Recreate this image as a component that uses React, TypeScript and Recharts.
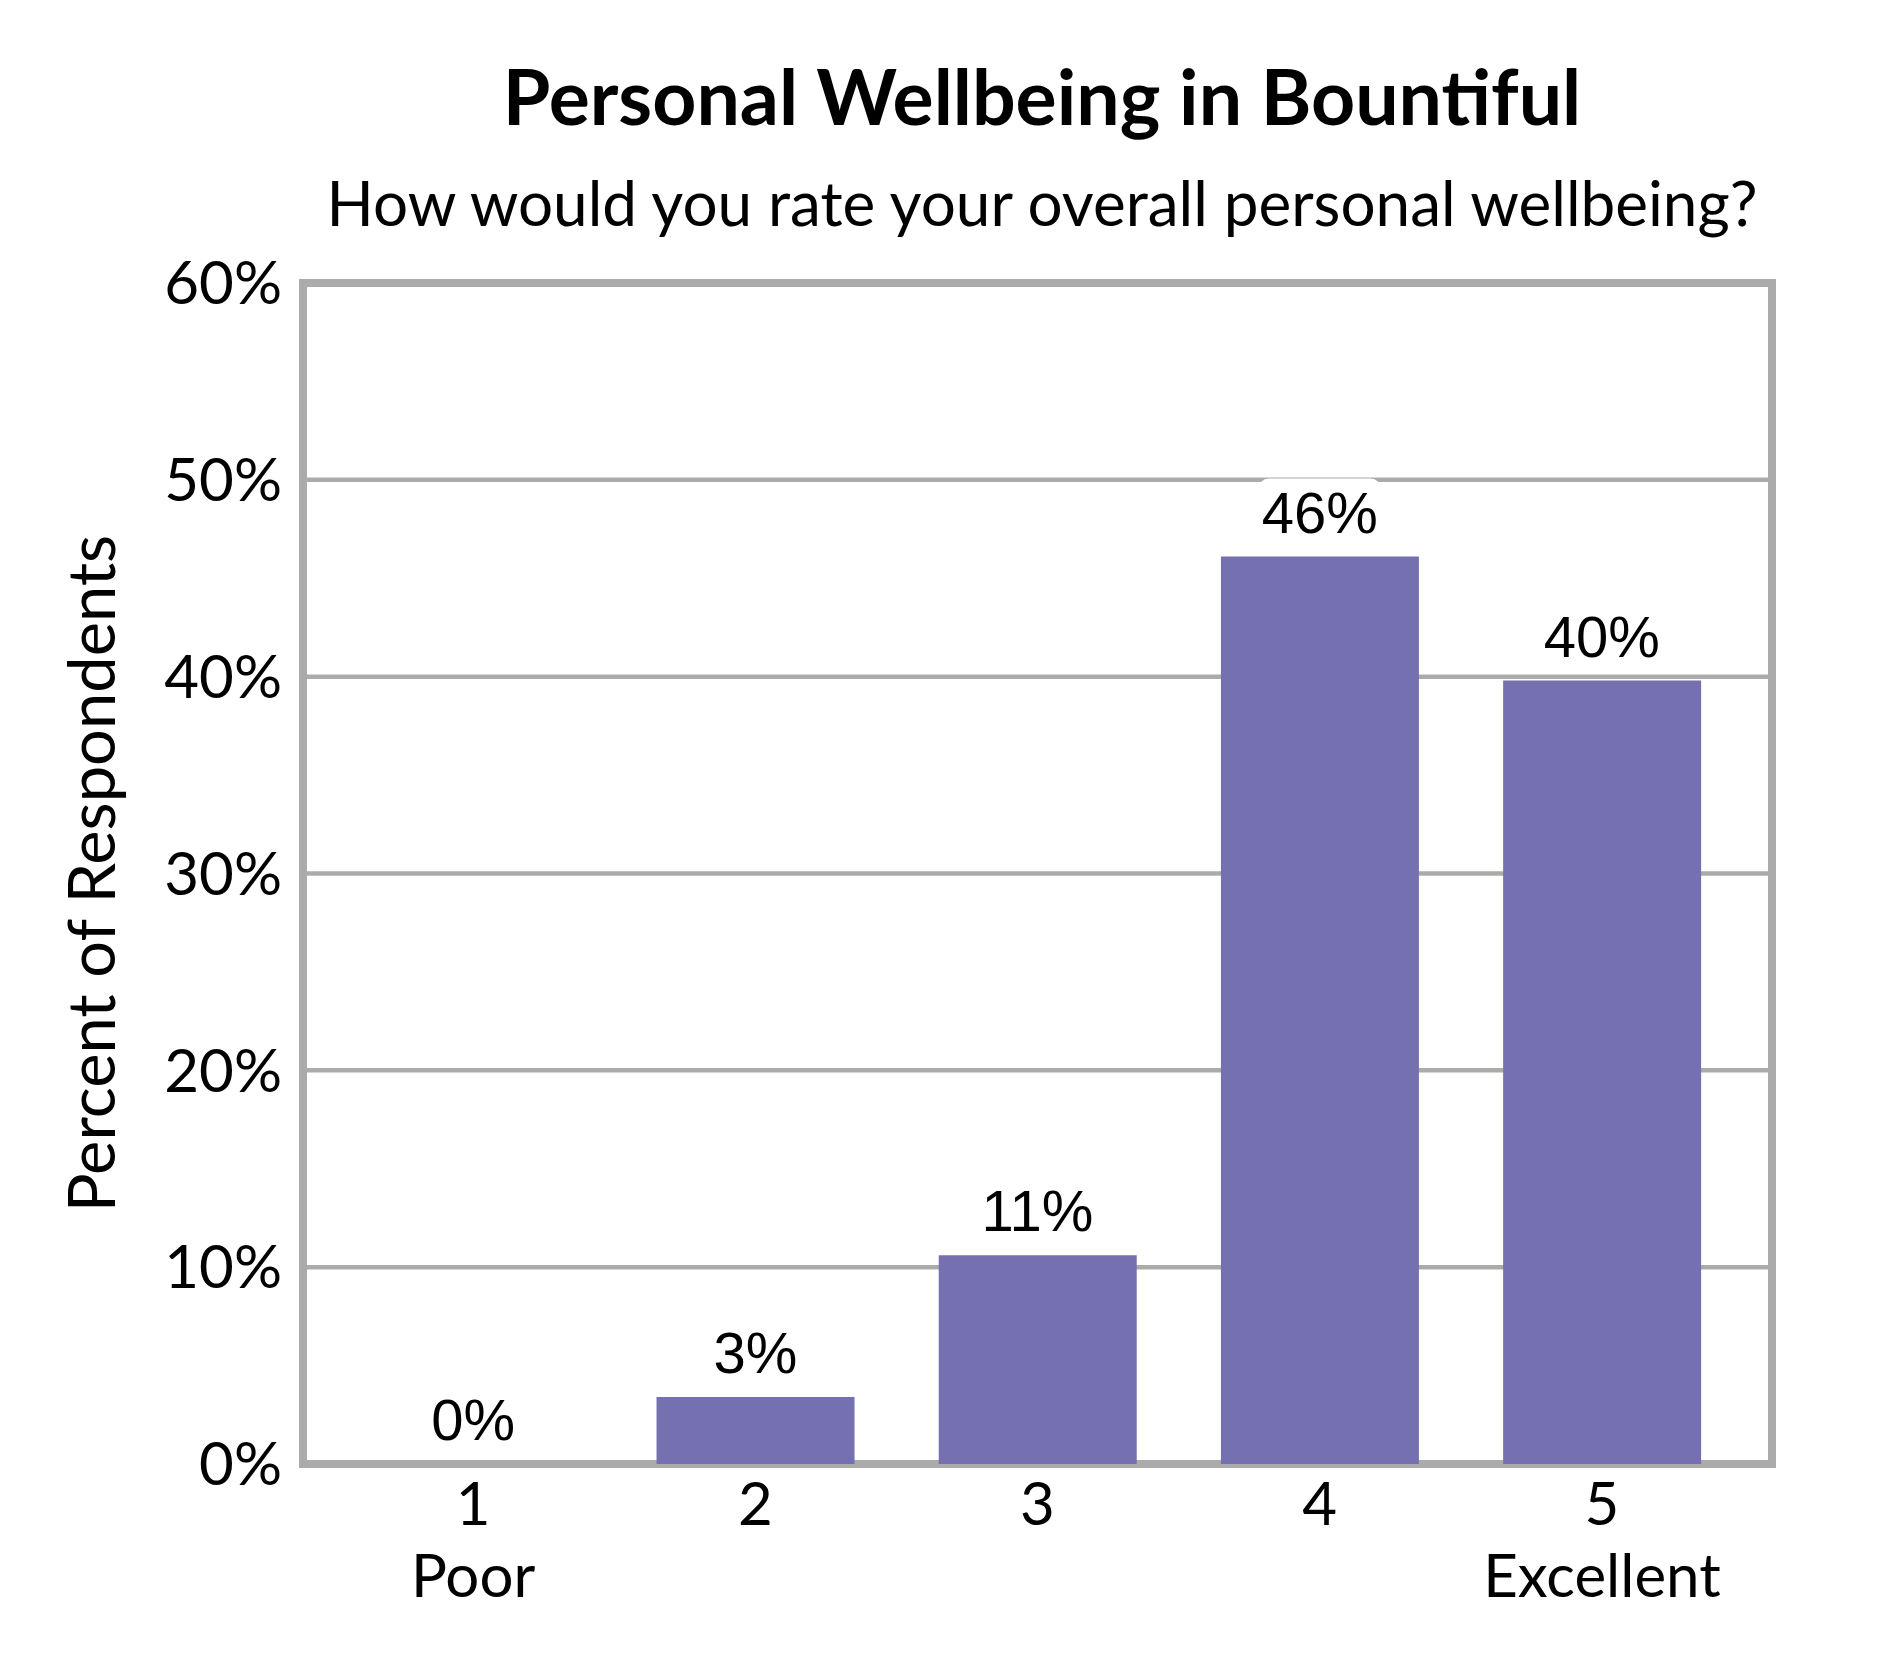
import React from 'react';
import { ComposedChart, Bar, Line, XAxis, YAxis, CartesianGrid, LabelList } from 'recharts';

// ---- data ----
const categories = ['1', '2', '3', '4', '5'];
const subLabels = ['Poor', '', '', '', 'Excellent'];
const percents = [0, 3.4, 10.6, 46.1, 39.8];
const yTicks = [0, 10, 20, 30, 40, 50, 60];

const TITLE = 'Personal Wellbeing in Bountiful';
const SUBTITLE = 'How would you rate your overall personal wellbeing?';
const Y_TITLE = 'Percent of Respondents';

const data = categories.map((c, i) => ({ cat: c, value: percents[i] }));

// ---- style ----
const UI_FONT = 'Lato, "Open Sans", sans-serif';
const LABEL_FONT = '"Liberation Sans", Arial, sans-serif';
const UI_SIZE = 60;
const LABEL_SIZE = 58;
const BAR_COLOR = '#7571B1';
const GRID_COLOR = '#ABABAB';
const W = 1890;
const H = 1680;

const XTick = (props: any) => {
  const { x, y, payload } = props;
  const idx = categories.indexOf(String(payload.value));
  const sub = idx >= 0 ? subLabels[idx] : '';
  return (
    <g>
      <text x={x} y={y + 61} textAnchor="middle" fontSize={UI_SIZE} fontFamily={UI_FONT} fill="#000">
        {payload.value}
      </text>
      {sub ? (
        <text x={x} y={y + 133} textAnchor="middle" fontSize={UI_SIZE} fontFamily={UI_FONT} fill="#000">
          {sub}
        </text>
      ) : null}
    </g>
  );
};

// label drawn at the point of an invisible line series (centre of each category, at the value)
const PointLabel = (props: any) => {
  const { x, y, value } = props;
  const cx = Number(x);
  const base = Number(y) - 24;
  const text = `${Math.round(Number(value))}%`;
  const digits = text.length - 1;
  const w = (digits * 0.556 + 0.889) * LABEL_SIZE + 6;
  return (
    <g>
      <rect x={cx - w / 2} y={base - 54} width={w} height={66} rx={10} ry={10} fill="#fff" />
      <text x={cx} y={base} textAnchor="middle" fontSize={LABEL_SIZE} fontFamily={LABEL_FONT} fill="#000">
        {text}
      </text>
    </g>
  );
};

const YTitle = (props: any) => {
  const vb = props.viewBox || {};
  const cy = (vb.y ?? 283) + (vb.height ?? 1181) / 2;
  const bx = 115;
  return (
    <text
      x={bx}
      y={cy}
      transform={`rotate(-90, ${bx}, ${cy})`}
      textAnchor="middle"
      fontSize={65}
      fontFamily={UI_FONT}
      fill="#000"
    >
      {Y_TITLE}
    </text>
  );
};

export default function App() {
  return (
    <div style={{ position: 'absolute', left: 0, top: 0, width: W, height: H, background: '#fff' }}>
      <ComposedChart
        width={W}
        height={H}
        data={data}
        margin={{ top: 283, right: 118, bottom: 0, left: 0 }}
        barCategoryGap="15%"
      >
        <CartesianGrid vertical={false} stroke={GRID_COLOR} strokeWidth={4.5} />
        <CartesianGrid
          stroke={GRID_COLOR}
          strokeWidth={8}
          strokeLinecap="square"
          horizontalCoordinatesGenerator={({ offset }: any) => [offset.top, offset.top + offset.height]}
          verticalCoordinatesGenerator={({ offset }: any) => [offset.left, offset.left + offset.width]}
        />
        <XAxis
          dataKey="cat"
          height={216}
          padding={{ left: 29, right: 29 }}
          axisLine={false}
          tickLine={false}
          tickSize={0}
          tickMargin={0}
          interval={0}
          tick={(p: any) => <XTick {...p} />}
        />
        <YAxis
          domain={[0, 60]}
          ticks={yTicks}
          interval={0}
          width={303}
          axisLine={false}
          tickLine={false}
          tickSize={0}
          tickMargin={21}
          tickFormatter={(v: number) => `${v}%`}
          tick={{ fontSize: UI_SIZE, fontFamily: UI_FONT, fill: '#000' }}
          label={{ content: (p: any) => <YTitle {...p} /> }}
        />
        <Bar dataKey="value" fill={BAR_COLOR} isAnimationActive={false} />
        <Line
          dataKey="value"
          stroke="none"
          dot={false}
          activeDot={false}
          legendType="none"
          isAnimationActive={false}
        >
          <LabelList dataKey="value" content={(p: any) => <PointLabel {...p} />} />
        </Line>
      </ComposedChart>
      <svg width={W} height={H} style={{ position: 'absolute', left: 0, top: 0, pointerEvents: 'none' }}>
        <text x={1042} y={125} textAnchor="middle" fontSize={77} fontWeight={700} fontFamily={UI_FONT} fill="#000">
          {TITLE}
        </text>
        <text x={1042} y={226} textAnchor="middle" fontSize={62} fontFamily={UI_FONT} fill="#000">
          {SUBTITLE}
        </text>
      </svg>
    </div>
  );
}
